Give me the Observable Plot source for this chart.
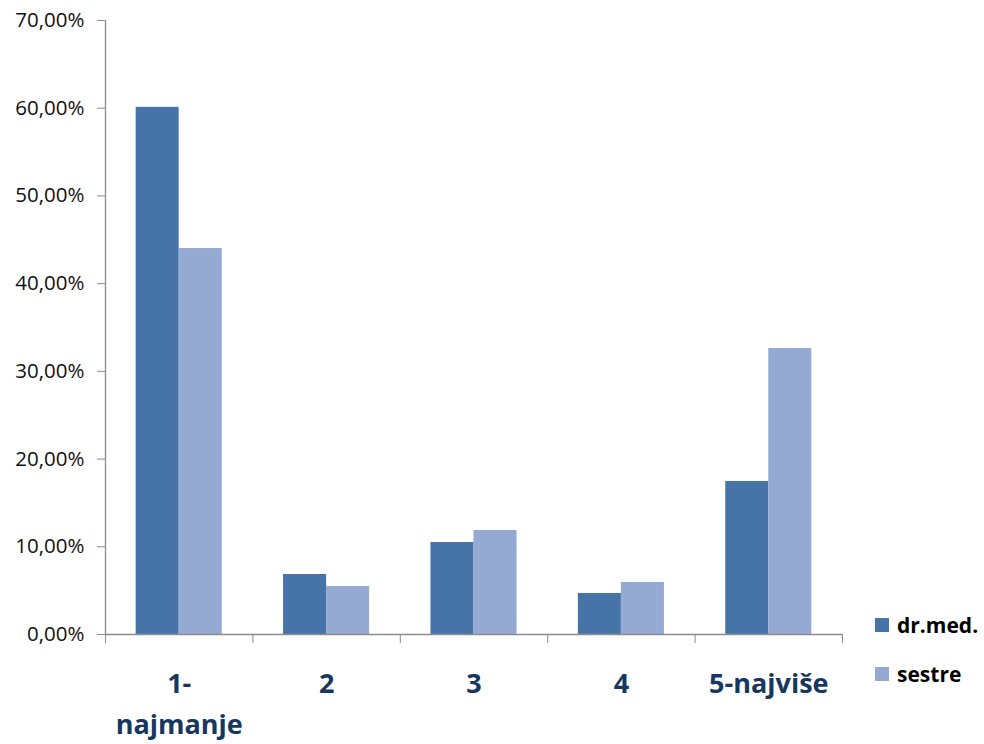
<!DOCTYPE html>
<html>
<head>
<meta charset="utf-8">
<script src="https://cdn.jsdelivr.net/npm/d3@7"></script>
<script src="https://cdn.jsdelivr.net/npm/@observablehq/plot@0.6"></script>
<style>
  html, body { margin: 0; padding: 0; background: #fff; }
  #wrap { position: relative; width: 984px; height: 744px; font-family: "Open Sans", sans-serif; }
  #legend { position: absolute; left: 875px; top: 610px; font-weight: 700; font-size: 21px; color: #000; }
  .item { display: flex; align-items: center; height: 29px; margin-bottom: 20px; }
  .sw { width: 14px; height: 14px; margin-right: 8px; }
</style>
</head>
<body>
<div id="wrap"></div>
<script>
const categories = ["1-\nnajmanje", "2", "3", "4", "5-najviše"];
const seriesNames = ["dr.med.", "sestre"];
const drMed = [0.601, 0.0684, 0.1049, 0.0468, 0.1745];
const sestre = [0.440, 0.0547, 0.1186, 0.0593, 0.326];
const yTicks = [0, 0.1, 0.2, 0.3, 0.4, 0.5, 0.6, 0.7];
const colors = ["#4674A9", "#95AAD2"];

// group layout within each category slot (like band padding)
const outerPad = 0.208;
const seriesValues = [drMed, sestre];
const rows = [];
categories.forEach((c, i) => {
  seriesNames.forEach((s, j) => {
    const w = (1 - 2 * outerPad) / seriesNames.length;
    rows.push({
      cat: c, series: s, value: seriesValues[j][i],
      x1: i + outerPad + j * w, x2: i + outerPad + (j + 1) * w
    });
  });
});

const fmt = d => (d * 100).toFixed(2).replace(".", ",") + "%";

const chart = Plot.plot({
  width: 984,
  height: 744,
  marginLeft: 105,
  marginRight: 142,
  marginTop: 20,
  marginBottom: 110,
  style: { fontFamily: "Open Sans, sans-serif", background: "#fff" },
  x: { domain: [0, categories.length], axis: null },
  y: { domain: [0, 0.7], axis: null },
  color: { domain: seriesNames, range: colors },
  marks: [
    Plot.rectY(rows, { x1: "x1", x2: "x2", y: "value", fill: "series" }),
    Plot.ruleX([0], { stroke: "#8c8c8c", strokeWidth: 1.3 }),
    Plot.ruleY([0], { stroke: "#8c8c8c", strokeWidth: 1.3 }),
    Plot.axisY({
      ticks: yTicks, tickFormat: fmt, tickSize: 8, tickPadding: 13, label: null,
      stroke: "#8c8c8c", fontSize: 20.5, fill: "#111"
    }),
    Plot.axisX({
      ticks: d3.range(0, categories.length + 1), tickFormat: () => "", label: null,
      tickSize: 9, stroke: "#8c8c8c"
    }),
    Plot.axisX({
      ticks: categories.map((c, i) => i + 0.5),
      tickFormat: d => categories[Math.floor(d)], label: null,
      tickSize: 0, tickPadding: 30, fontSize: 27, fontWeight: 700,
      fill: "#17375E", lineHeight: 1.5
    })
  ]
});

const wrap = document.getElementById("wrap");
wrap.appendChild(chart);

const legend = document.createElement("div");
legend.id = "legend";
seriesNames.forEach((s, i) => {
  const item = document.createElement("div");
  item.className = "item";
  const sw = document.createElement("div");
  sw.className = "sw";
  sw.style.background = colors[i];
  const t = document.createElement("span");
  t.textContent = s;
  item.appendChild(sw);
  item.appendChild(t);
  legend.appendChild(item);
});
wrap.appendChild(legend);
</script>
</body>
</html>
